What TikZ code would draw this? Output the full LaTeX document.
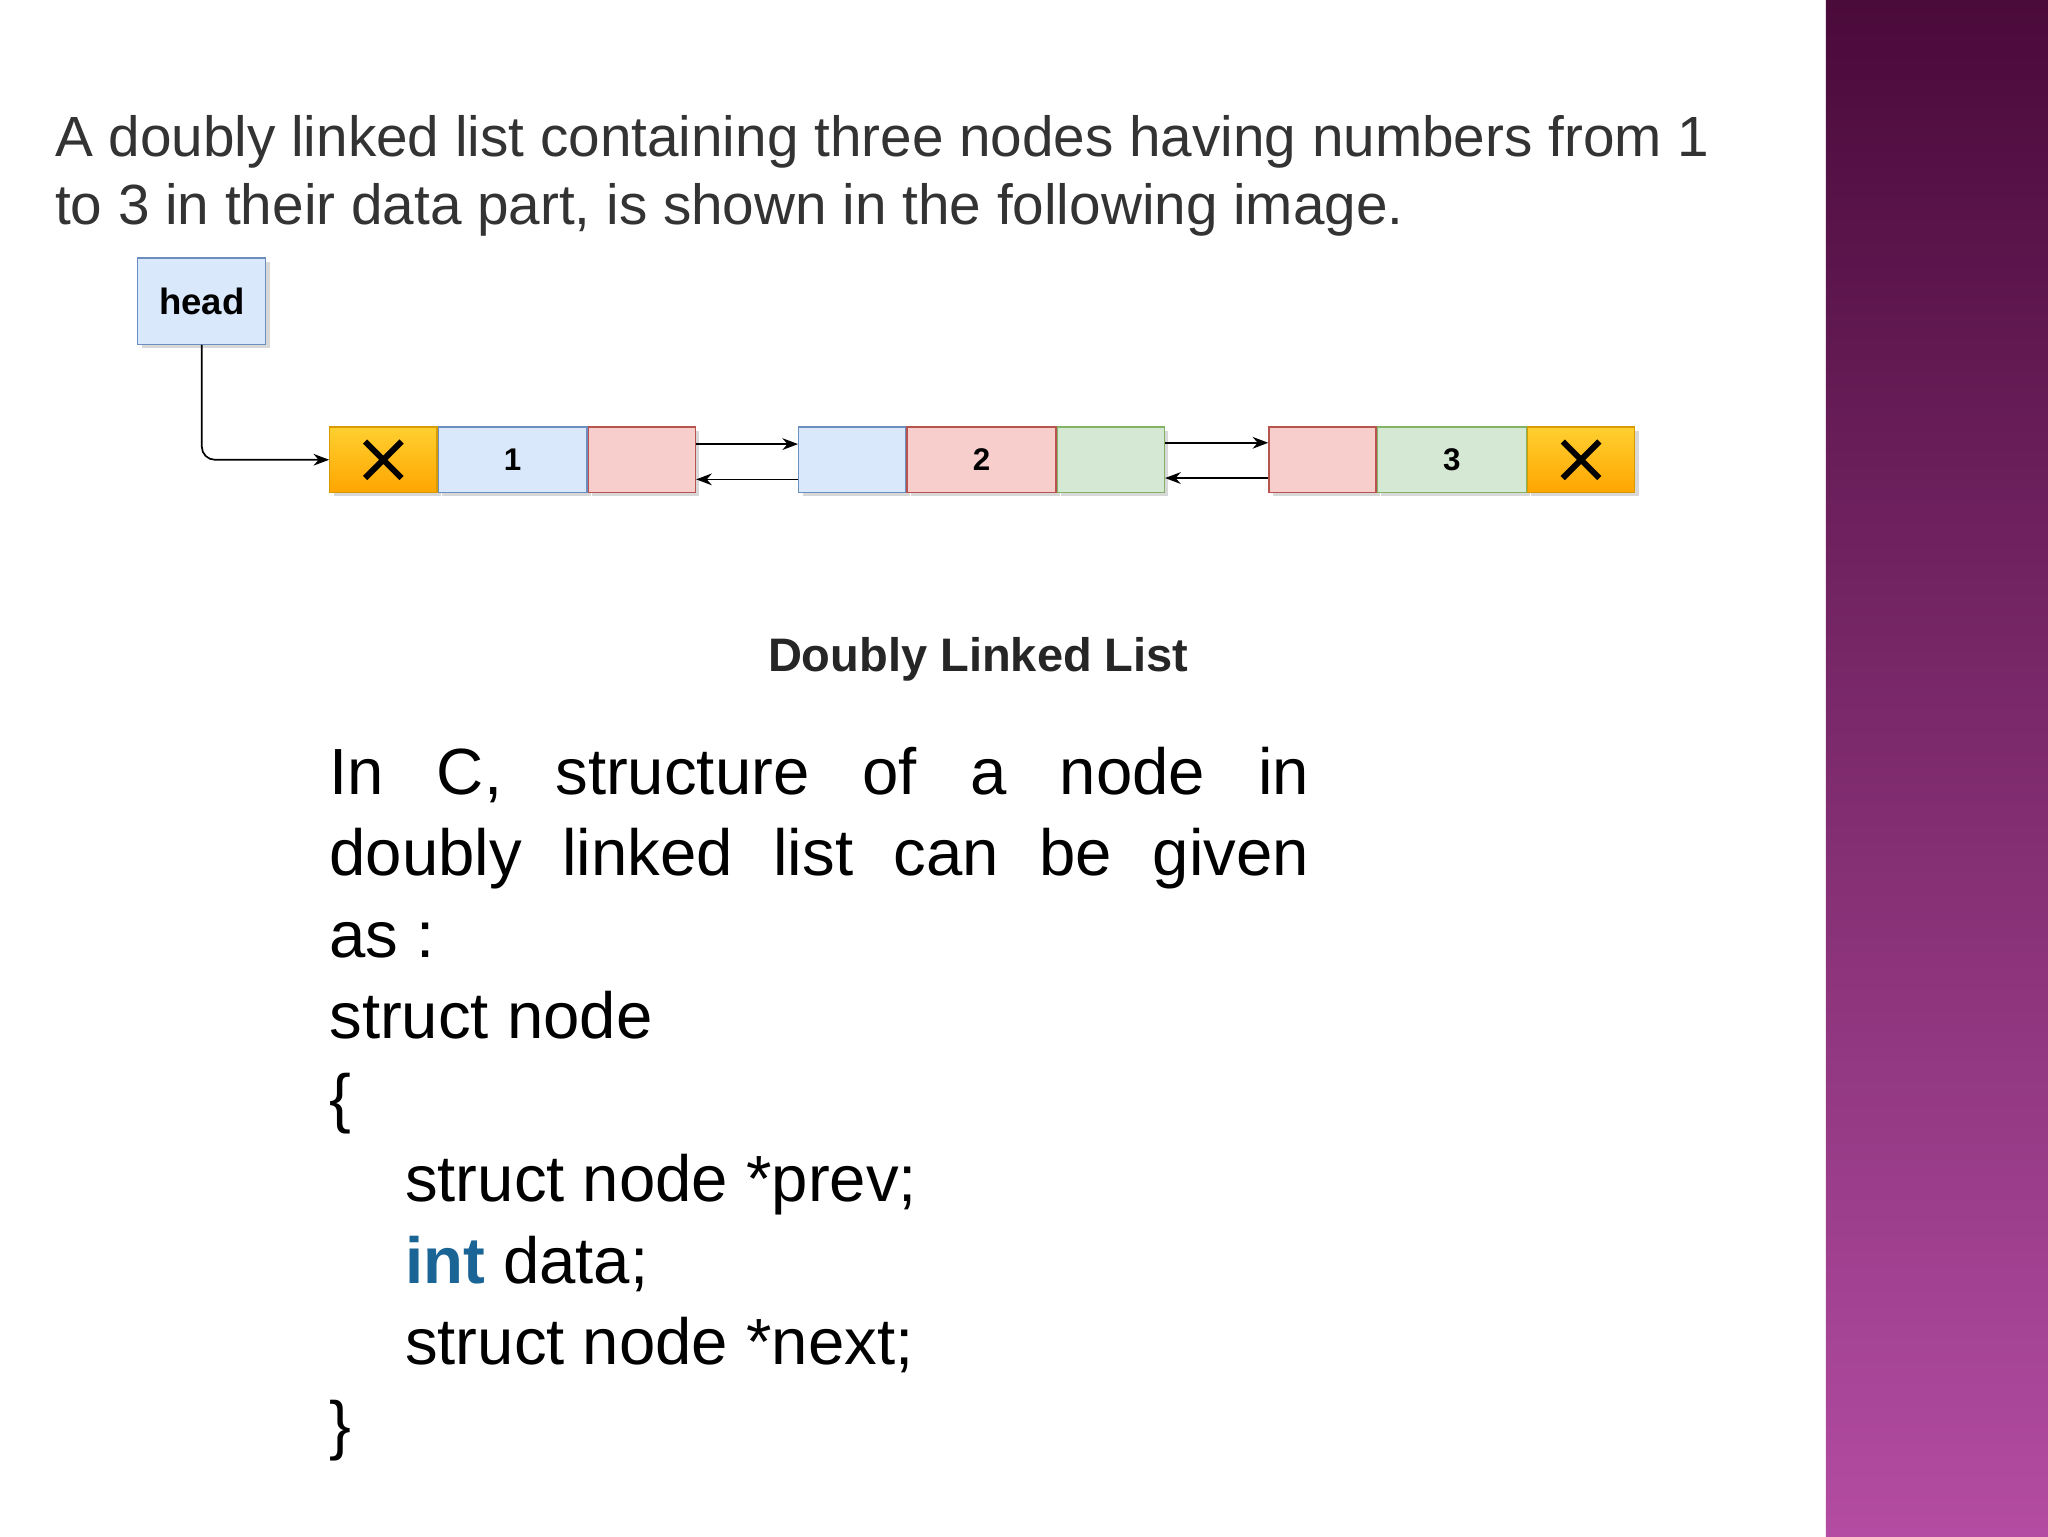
\documentclass[tikz,border=0pt]{standalone}
\usepackage{fontspec}
\setmainfont{Liberation Sans}
\usetikzlibrary{arrows.meta,shadows}
\definecolor{txt}{HTML}{333333}
\definecolor{bfill}{HTML}{DAE8FC}\definecolor{bdraw}{HTML}{6C8EBF}
\definecolor{rfill}{HTML}{F8CECC}\definecolor{rdraw}{HTML}{B85450}
\definecolor{gfill}{HTML}{D5E8D4}\definecolor{gdraw}{HTML}{82B366}
\definecolor{ofill}{HTML}{FFA500}\definecolor{otop}{HTML}{FFD030}\definecolor{odraw}{HTML}{D79B00}
\definecolor{kw}{HTML}{1A6496}
\definecolor{ptop}{HTML}{4A0A3A}\definecolor{pbot}{HTML}{B34CA2}
\tikzset{
 cell/.style={minimum height=50pt,inner sep=0pt,line width=1pt,anchor=west,
   drop shadow={shadow xshift=3pt,shadow yshift=-3pt,fill=black!25,opacity=.6},
   font=\fontsize{24}{24}\selectfont\bfseries},
 bl/.style={cell,fill=bfill,draw=bdraw},
 rd/.style={cell,fill=rfill,draw=rdraw},
 gr/.style={cell,fill=gfill,draw=gdraw},
 og/.style={cell,top color=otop,bottom color=ofill,draw=odraw},
 arr/.style={-{Stealth[length=12pt,width=9pt]},line width=1.3pt},
 body/.style={anchor=base west,inner sep=0pt,text=black,font=\fontsize{50}{50}\selectfont}
}
\newcommand{\xmark}{\tikz[baseline=-0.5ex]\draw[line width=4.5pt](-14pt,-14pt)--(14pt,14pt)(-14pt,14pt)--(14pt,-14pt);}
\begin{document}
\begin{tikzpicture}[x=1pt,y=-1pt]
\useasboundingbox (0,0) rectangle (1568,1176);
\fill[white] (0,0) rectangle (1398,1176);
\shade[top color=ptop, bottom color=pbot] (1398,0) rectangle (1568,1176);
\node[anchor=base west,inner sep=0pt,text=txt,font=\fontsize{43.4}{52}\selectfont] (t1) at (42,120) {A doubly linked list containing three nodes having numbers from 1};
\node[anchor=base west,inner sep=0pt,text=txt,font=\fontsize{43.4}{52}\selectfont] (t2) at (42,172) {to 3 in their data part, is shown in the following image.};
\node[bl,minimum width=98pt,minimum height=66pt,anchor=north west,font=\fontsize{28}{28}\selectfont\bfseries] (head) at (105,197) {head};
% node 1
\node[og,minimum width=82pt] (a1) at (252,352) {\xmark};
\node[bl,minimum width=114pt] (a2) at (a1.east) {1};
\node[rd,minimum width=82pt] (a3) at (a2.east) {};
% node 2
\node[bl,minimum width=82pt] (b1) at (611,352) {};
\node[rd,minimum width=114pt] (b2) at (b1.east) {2};
\node[gr,minimum width=82pt] (b3) at (b2.east) {};
% node 3
\node[rd,minimum width=82pt] (c1) at (971,352) {};
\node[gr,minimum width=114pt] (c2) at (c1.east) {3};
\node[og,minimum width=82pt] (c3) at (c2.east) {\xmark};
\draw[arr,rounded corners=10pt] (head.south) |- (a1.west);
\draw[arr] ([yshift=12pt]a3.east) -- ([yshift=12pt]b1.west);
\draw[arr] ([yshift=-15pt]b1.west) -- ([yshift=-15pt]a3.east);
\draw[arr] ([yshift=13pt]b3.east) -- ([yshift=13pt]c1.west);
\draw[arr] ([yshift=-14pt]c1.west) -- ([yshift=-14pt]b3.east);
\node[font=\fontsize{36}{36}\selectfont\bfseries,text=black!85] (cap) at (749,505) {Doubly Linked List};
\node[body] (l1) at (252,608) {\makebox[750pt][s]{In C, structure of a node in}};
\node[body] (l2) at (252,670) {\makebox[750pt][s]{doubly linked list can be given}};
\node[body] (l3) at (252,733) {as :};
\node[body] (l4) at (252,795) {struct node};
\node[body] (l5) at (252,858) {\{};
\node[body] (l6) at (310,920) {struct node *prev;};
\node[body] (l7) at (310,983) {\textcolor{kw}{\bfseries int} data;};
\node[body] (l8) at (310,1045) {struct node *next;};
\node[body] (l9) at (252,1108) {\}};
\end{tikzpicture}
\end{document}
